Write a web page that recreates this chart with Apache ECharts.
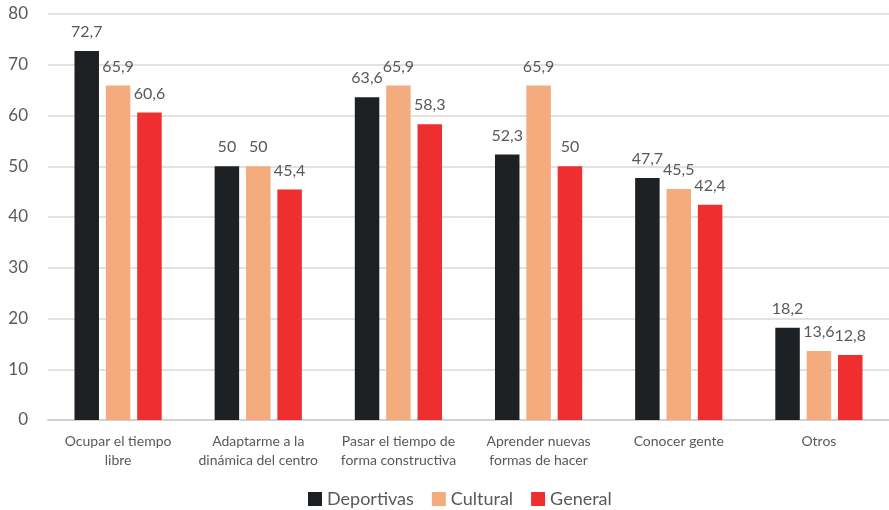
<!DOCTYPE html>
<html>
<head>
<meta charset="utf-8">
<script src="https://cdn.jsdelivr.net/npm/echarts@6/dist/echarts.min.js"></script>
<style>
  html, body { margin: 0; padding: 0; background: #ffffff; }
  #chart { width: 889px; height: 510px; }
</style>
</head>
<body>
<div id="chart"></div>
<script>
// Motivos de participación por tipo de actividad (%)
const categories = [
  'Ocupar el tiempo\nlibre',
  'Adaptarme a la\ndinámica del centro',
  'Pasar el tiempo de\nforma constructiva',
  'Aprender nuevas\nformas de hacer',
  'Conocer gente',
  'Otros'
];
const deportivas = [72.7, 50, 63.6, 52.3, 47.7, 18.2];
const cultural   = [65.9, 50, 65.9, 65.9, 45.5, 13.6];
const general    = [60.6, 45.4, 58.3, 50, 42.4, 12.8];
const seriesNames = ['Deportivas', 'Cultural', 'General'];
const seriesColors = ['#1e2124', '#f4ac7e', '#ee2e2f'];

const FONT = 'Lato, "Open Sans", sans-serif';
const TEXT = '#595959';

const fmt = v => String(v).replace('.', ',');

function barSeries(name, data, color) {
  return {
    name: name,
    type: 'bar',
    data: data,
    barWidth: 24.5,
    barGap: '28%',
    itemStyle: { color: color },
    label: {
      show: true,
      position: 'top',
      distance: 11,
      color: TEXT,
      fontFamily: FONT,
      fontSize: 16,
      formatter: p => fmt(p.value)
    }
  };
}

const chart = echarts.init(document.getElementById('chart'));
chart.setOption({
  animation: false,
  textStyle: { fontFamily: FONT },
  grid: { left: 48, right: -3, top: 14, bottom: 90, containLabel: false },
  legend: {
    data: seriesNames,
    top: 485,
    left: 303,
    itemWidth: 14,
    itemHeight: 14,
    itemGap: 18,
    icon: 'rect',
    textStyle: { color: TEXT, fontFamily: FONT, fontSize: 18 }
  },
  xAxis: {
    type: 'category',
    data: categories,
    axisTick: { show: false },
    axisLine: { lineStyle: { color: '#d0d0d0', width: 2 } },
    axisLabel: {
      color: TEXT,
      fontFamily: FONT,
      fontSize: 14,
      lineHeight: 19,
      margin: 12,
      interval: 0
    }
  },
  yAxis: {
    type: 'value',
    min: 0,
    max: 80,
    interval: 10,
    axisLine: { show: false },
    axisTick: { show: false },
    splitLine: { lineStyle: { color: '#d9d9d9', width: 1.5 } },
    axisLabel: {
      color: TEXT,
      fontFamily: FONT,
      fontSize: 17,
      margin: 20
    }
  },
  series: [
    barSeries(seriesNames[0], deportivas, seriesColors[0]),
    barSeries(seriesNames[1], cultural, seriesColors[1]),
    barSeries(seriesNames[2], general, seriesColors[2])
  ]
});
</script>
</body>
</html>
